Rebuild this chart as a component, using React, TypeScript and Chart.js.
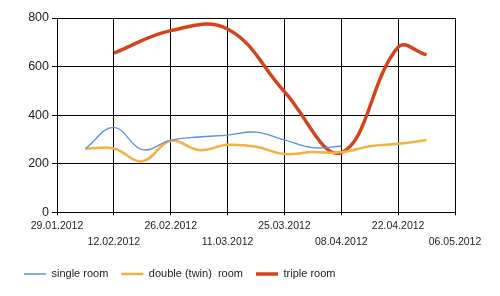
import React, { useEffect, useRef } from 'react';
import { Chart, registerables } from 'chart.js';

Chart.register(...registerables);

// ---- data ----
const startDate = '29.01.2012';
const weekDates = [
  '05.02.2012', '12.02.2012', '19.02.2012', '26.02.2012', '04.03.2012',
  '11.03.2012', '18.03.2012', '25.03.2012', '01.04.2012', '08.04.2012',
  '15.04.2012', '22.04.2012', '29.04.2012',
];
const singleRoom = [262, 350, 258, 297, 310, 318, 330, 298, 266, 272, null, null, null];
const doubleRoom = [262, 263, 210, 295, 256, 278, 270, 240, 248, 247, 272, 282, 298];
const tripleRoom = [null, 655, null, 748, null, 755, null, 497, null, 246, null, 680, 648];
const xTickLabels = [
  '29.01.2012', '12.02.2012', '26.02.2012', '11.03.2012',
  '25.03.2012', '08.04.2012', '22.04.2012', '06.05.2012',
];
const yTicks = [0, 200, 400, 600, 800];
const seriesNames = ['single room', 'double (twin)  room', 'triple room'];

const FONT = "'Liberation Sans', Arial, sans-serif";

function parseDate(s: string): number {
  const [d, m, y] = s.split('.').map(Number);
  return Date.UTC(y, m - 1, d);
}
const DAY = 86400000;
const t0 = parseDate(startDate);
const dayOf = (s: string) => Math.round((parseDate(s) - t0) / DAY);
const toPoints = (vals: (number | null)[]) =>
  weekDates
    .map((d, i) => ({ x: dayOf(d), y: vals[i] }))
    .filter((p) => p.y !== null) as { x: number; y: number }[];

export default function App() {
  const ref = useRef<HTMLCanvasElement | null>(null);

  useEffect(() => {
    if (!ref.current) return;
    const tickDays = xTickLabels.map(dayOf);
    const chart = new Chart(ref.current, {
      type: 'line',
      data: {
        datasets: [
          {
            label: seriesNames[0],
            data: toPoints(singleRoom),
            borderColor: '#5a8fe3',
            backgroundColor: '#5a8fe3',
            borderWidth: 1.3,
            pointRadius: 0,
            tension: 0.4,
          },
          {
            label: seriesNames[1],
            data: toPoints(doubleRoom),
            borderColor: '#f4b140',
            backgroundColor: '#f4b140',
            borderWidth: 2.5,
            pointRadius: 0,
            tension: 0.4,
          },
          {
            label: seriesNames[2],
            data: toPoints(tripleRoom),
            borderColor: '#d4441a',
            backgroundColor: '#d4441a',
            borderWidth: 3.5,
            pointRadius: 0,
            tension: 0.4,
          },
        ],
      },
      options: {
        animation: false,
        responsive: false,
        devicePixelRatio: 1,
        layout: { padding: { left: 11, right: 45, top: 18, bottom: 6.5 } },
        plugins: {
          legend: {
            position: 'bottom',
            align: 'start',
            labels: {
              usePointStyle: true,
              pointStyle: 'line',
              pointStyleWidth: 22,
              padding: 13,
              color: '#222',
              font: { family: FONT, size: 11 },
            },
          },
          tooltip: { enabled: false },
        },
        scales: {
          x: {
            type: 'linear',
            min: tickDays[0],
            max: tickDays[tickDays.length - 1],
            afterBuildTicks: (scale: any) => {
              scale.ticks = tickDays.map((v) => ({ value: v }));
            },
            afterFit: (scale: any) => {
              scale.height = 43.2;
            },
            ticks: {
              autoSkip: false,
              maxRotation: 0,
              padding: 3,
              color: '#222',
              font: { family: FONT, size: 10.5, lineHeight: 1.5 },
              callback: (_v: any, i: number) =>
                i % 2 === 0 ? xTickLabels[i] : ['', xTickLabels[i]],
            },
            grid: { color: '#000', lineWidth: 1, tickLength: 3 },
            border: { color: '#000', width: 1 },
          },
          y: {
            min: yTicks[0],
            max: yTicks[yTicks.length - 1],
            afterBuildTicks: (scale: any) => {
              scale.ticks = yTicks.map((v) => ({ value: v }));
            },
            afterFit: (scale: any) => {
              scale.width = 46;
            },
            ticks: {
              padding: 3,
              color: '#222',
              font: { family: FONT, size: 12.5 },
            },
            grid: { color: '#000', lineWidth: 1, tickLength: 5 },
            border: { color: '#000', width: 1 },
          },
        },
      },
    } as any);
    return () => chart.destroy();
  }, []);

  return (
    <div style={{ position: 'absolute', left: 0, top: 0, width: 500, height: 296, background: '#fff' }}>
      <canvas ref={ref} width={500} height={296} style={{ display: 'block' }} />
    </div>
  );
}
